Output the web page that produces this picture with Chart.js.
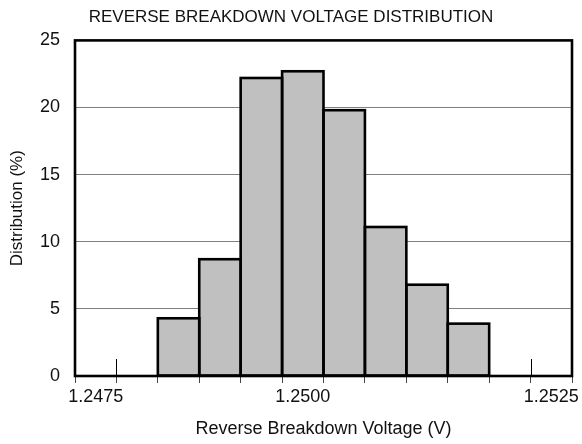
<!DOCTYPE html>
<html>
<head>
<meta charset="utf-8">
<script src="https://cdn.jsdelivr.net/npm/chart.js@4.4.1/dist/chart.umd.min.js"></script>
<style>
  html, body { margin: 0; padding: 0; background: #fff; }
  #wrap { position: relative; width: 582px; height: 444px; }
</style>
</head>
<body>
<div id="wrap"><canvas id="histo"></canvas></div>
<script>
// categorias del eje X (una por bin, solo algunas con texto)
const voltageBins = ['1.2475', '', '', '', '', '1.2500', '', '', '', '', '', '1.2525'];
// distribucion (%) por bin
const distribution = [null, null, 4.3, 8.7, 22.2, 22.7, 19.8, 11.1, 6.8, 3.9, null, null];
// marcas de eje Y
const yTickValues = [0, 5, 10, 15, 20, 25];
// marcas interiores cortas (despues del bin indicado)
const innerTickAfter = [0, 10];

const FONT = "'Liberation Sans', Arial, sans-serif";

/**
 * Contorno de barras, marco del grafico y marcas interiores
 */
const framePlugin = {
  id: 'frame',
  afterDatasetsDraw(chart) {
    const ctx = chart.ctx;
    const meta = chart.getDatasetMeta(0);
    ctx.save();
    ctx.strokeStyle = '#000';
    ctx.lineWidth = 2.6;
    meta.data.forEach((bar, i) => {
      if (distribution[i] == null) return;
      const p = bar.getProps(['x', 'y', 'base', 'width'], true);
      ctx.strokeRect(p.x - p.width / 2, p.y, p.width, p.base - p.y);
    });
    ctx.restore();
  },
  afterDraw(chart) {
    const ctx = chart.ctx;
    const a = chart.chartArea;
    const xs = chart.scales.x;
    ctx.save();
    ctx.strokeStyle = '#000';
    ctx.lineWidth = 1;
    innerTickAfter.forEach(i => {
      const px = Math.round((xs.getPixelForValue(i) + xs.getPixelForValue(i + 1)) / 2) + 0.5;
      ctx.beginPath();
      ctx.moveTo(px, a.bottom);
      ctx.lineTo(px, a.bottom - 17);
      ctx.stroke();
    });
    ctx.lineWidth = 2.6;
    ctx.strokeRect(a.left, a.top, a.right - a.left, a.bottom - a.top);
    ctx.restore();
  }
};

new Chart(document.getElementById('histo'), {
  type: 'bar',
  data: {
    labels: voltageBins,
    datasets: [{
      data: distribution,
      backgroundColor: '#c0c0c0',
      borderWidth: 0,
      barPercentage: 1,
      categoryPercentage: 1
    }]
  },
  options: {
    responsive: true,
    maintainAspectRatio: false,
    animation: false,
    layout: { padding: 0 },
    plugins: {
      legend: { display: false },
      tooltip: { enabled: false },
      title: {
        display: true,
        text: 'REVERSE BREAKDOWN VOLTAGE DISTRIBUTION',
        color: '#111',
        font: { family: FONT, size: 17, weight: 'normal' },
        padding: { top: 7, bottom: 13 }
      }
    },
    scales: {
      x: {
        offset: true,
        afterFit: (s) => { s.height = 68; s.paddingRight = 10; },
        grid: {
          offset: true,
          drawOnChartArea: false,
          tickLength: 7,
          color: '#444',
          lineWidth: 1
        },
        border: { display: false },
        ticks: {
          autoSkip: false,
          maxRotation: 0,
          padding: 3,
          color: '#111',
          font: { family: FONT, size: 18 }
        },
        title: {
          display: true,
          text: 'Reverse Breakdown Voltage (V)',
          color: '#111',
          font: { family: FONT, size: 18 },
          padding: { top: 0, bottom: 4 }
        }
      },
      y: {
        min: 0,
        max: 25,
        afterFit: (s) => { s.width = 75; },
        afterBuildTicks: (s) => { s.ticks = yTickValues.map(v => ({ value: v })); },
        grid: {
          color: '#808080',
          lineWidth: 1,
          drawTicks: false
        },
        border: { display: false },
        ticks: {
          padding: 15,
          color: '#111',
          font: { family: FONT, size: 18 }
        },
        title: {
          display: true,
          text: 'Distribution (%)',
          color: '#111',
          font: { family: FONT, size: 17 },
          padding: { top: 7, bottom: 0 }
        }
      }
    }
  },
  plugins: [framePlugin]
});
</script>
</body>
</html>
